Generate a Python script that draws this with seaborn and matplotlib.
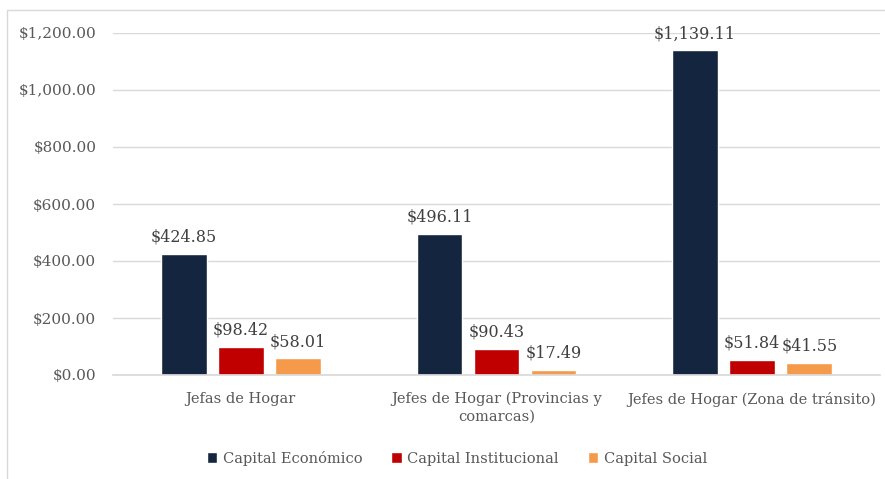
"""
Bar chart of capital by type of household head.
"""

import pandas as pd
import seaborn as sns
import matplotlib.pyplot as plt
from matplotlib.patches import Rectangle

# data
categorias = ['Jefas de Hogar',
              'Jefes de Hogar (Provincias y\ncomarcas)',
              'Jefes de Hogar (Zona de tránsito)']
series = ['Capital Económico', 'Capital Institucional', 'Capital Social']
economico = [424.85, 496.11, 1139.11]
institucional = [98.42, 90.43, 51.84]
social = [58.01, 17.49, 41.55]
colores = ['#14263F', '#C00000', '#F59A4B']

df = pd.DataFrame({
    'categoria': categorias * 3,
    'serie': [s for s in series for _ in categorias],
    'valor': economico + institucional + social,
})

sns.set_theme(style='white')
plt.rcParams['font.family'] = ['DejaVu Serif']
gris = '#595959'

fig = plt.figure(figsize=(8.85, 4.79), dpi=100)
ax = fig.add_axes([113 / 885, 104 / 479, 767 / 885, 342 / 479])

sns.barplot(data=df, x='categoria', y='valor', hue='serie',
            palette=colores, width=0.67, gap=0.2, ax=ax, legend=True,
            saturation=1)

# value labels
for cont in ax.containers:
    ax.bar_label(cont, labels=[f'${v:,.2f}' for v in cont.datavalues],
                 padding=6, fontsize=11.5, color='#404040')

ax.set_ylim(0, 1200)
ax.set_yticks(range(0, 1201, 200))
ax.set_yticklabels([f'${v:,.2f}' for v in range(0, 1201, 200)],
                   fontsize=11, color=gris)
ax.tick_params(axis='x', labelsize=10.5, colors=gris, pad=6)
ax.tick_params(axis='y', length=0, pad=12)
ax.yaxis.grid(True, color='#D9D9D9', linewidth=1)
ax.set_axisbelow(True)
ax.set_xlabel('')
ax.set_ylabel('')
for side in ['top', 'right', 'left']:
    ax.spines[side].set_visible(False)
ax.spines['bottom'].set_color('#D9D9D9')
for lbl in ax.get_xticklabels():
    lbl.set_linespacing(1.3)

ax.legend(loc='center', bbox_to_anchor=(457 / 885, 21 / 479),
          bbox_transform=fig.transFigure, ncol=3,
          frameon=False, fontsize=10.5, handlelength=0.7, handleheight=0.7,
          columnspacing=2.0, handletextpad=0.4, labelcolor=gris)

# chart border
fig.patches.append(Rectangle((7 / 885, -0.1), 2, 1 - 10 / 479 + 0.1,
                             transform=fig.transFigure, fill=False,
                             edgecolor='#D9D9D9', linewidth=1))

fig.savefig('out.png', dpi=100)
